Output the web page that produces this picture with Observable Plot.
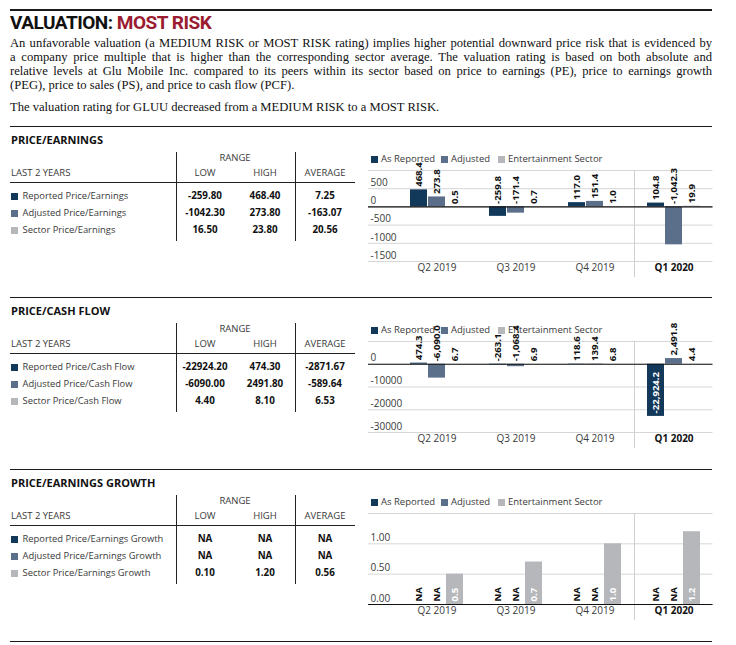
<!DOCTYPE html>
<html>
<head>
<meta charset="utf-8">
<script src="https://cdn.jsdelivr.net/npm/d3@7"></script>
<script src="https://cdn.jsdelivr.net/npm/@observablehq/plot@0.6"></script>
<style>
  body { margin: 0; background: #fff; }
  #page { position: relative; width: 736px; height: 645px; overflow: hidden; font-family: "Open Sans", sans-serif; color: #333; }
  .a { position: absolute; white-space: nowrap; }
  .rule { position: absolute; left: 10px; width: 702px; background: #1a1a1a; }
  .para { position: absolute; left: 10px; width: 702px; font-family: "Liberation Serif", serif; font-size: 12.6px; color: #111; line-height: 14px; }
  .jl { text-align: justify; text-align-last: justify; height: 14px; white-space: nowrap; }
  .sq { position: absolute; width: 7px; height: 7px; }
  .chart { position: absolute; left: 360px; z-index: 2; }
  .chart svg { background: transparent !important; overflow: visible; }
</style>
</head>
<body>
<div id="page"></div>
<script>
// ---------- data ----------
const quarters = ["Q2 2019", "Q3 2019", "Q4 2019", "Q1 2020"];
const currentQuarter = "Q1 2020";
const seriesNames = ["As Reported", "Adjusted", "Entertainment Sector"];
const seriesColors = ["#12385a", "#5b6f8a", "#b5b7ba"];

const peReported = [468.4, -259.8, 117.0, 104.8];
const peAdjusted = [273.8, -171.4, 151.4, -1042.3];
const peSector = [0.5, 0.7, 1.0, 19.9];
const peDomain = [-1500, 1000];
const peTicks = [-1500, -1000, -500, 0, 500, 1000];
const peTickLabels = [-1500, -1000, -500, 0, 500];

const pcfReported = [474.3, -263.1, 118.6, -22924.2];
const pcfAdjusted = [-6090.0, -1068.4, 139.4, 2491.8];
const pcfSector = [6.7, 6.9, 6.8, 4.4];
const pcfDomain = [-30000, 10000];
const pcfTicks = [-30000, -20000, -10000, 0, 10000];
const pcfTickLabels = [-30000, -20000, -10000, 0];

const pegReported = [null, null, null, null];
const pegAdjusted = [null, null, null, null];
const pegSector = [0.5, 0.7, 1.0, 1.2];
const pegDomain = [0, 1.5];
const pegTicks = [0, 0.5, 1.0, 1.5];
const pegTickLabels = [0, 0.5, 1.0];

const tableColumns = ["LOW", "HIGH", "AVERAGE"];
const peRows = ["Reported Price/Earnings", "Adjusted Price/Earnings", "Sector Price/Earnings"];
const peLow = ["-259.80", "-1042.30", "16.50"];
const peHigh = ["468.40", "273.80", "23.80"];
const peAvg = ["7.25", "-163.07", "20.56"];

const pcfRows = ["Reported Price/Cash Flow", "Adjusted Price/Cash Flow", "Sector Price/Cash Flow"];
const pcfLow = ["-22924.20", "-6090.00", "4.40"];
const pcfHigh = ["474.30", "2491.80", "8.10"];
const pcfAvg = ["-2871.67", "-589.64", "6.53"];

const pegRows = ["Reported Price/Earnings Growth", "Adjusted Price/Earnings Growth", "Sector Price/Earnings Growth"];
const pegLow = ["NA", "NA", "0.10"];
const pegHigh = ["NA", "NA", "1.20"];
const pegAvg = ["NA", "NA", "0.56"];

const titleText = "VALUATION: ";
const titleRisk = "MOST RISK";
const paraLines = [
  "An unfavorable valuation (a MEDIUM RISK or MOST RISK rating) implies higher potential downward price risk that is evidenced by",
  "a company price multiple that is higher than the corresponding sector average. The valuation rating is based on both absolute and",
  "relative levels at Glu Mobile Inc. compared to its peers within its sector based on price to earnings (PE), price to earnings growth",
  "(PEG), price to sales (PS),  and price to cash flow (PCF)."
];
const paraLast = "The valuation rating for GLUU decreased from a MEDIUM RISK to a MOST RISK.";

// ---------- helpers ----------
const page = document.getElementById("page");
function el(tag, cls, style, text) {
  const e = document.createElement(tag);
  if (cls) e.className = cls;
  if (style) Object.assign(e.style, style);
  if (text != null) e.textContent = text;
  page.appendChild(e);
  return e;
}
function txt(text, x, yc, opts = {}) {
  const { align = "left", size = 9.5, weight = 400, color = "#3a3a3a", family } = opts;
  const st = { top: (yc - 8) + "px", height: "16px", lineHeight: "16px", fontSize: size + "px", fontWeight: weight, color };
  if (family) st.fontFamily = family;
  if (align === "left") st.left = x + "px";
  else if (align === "center") { st.left = (x - 100) + "px"; st.width = "200px"; st.textAlign = "center"; }
  else { st.left = (x - 200) + "px"; st.width = "200px"; st.textAlign = "right"; }
  return el("div", "a", st, text);
}
function hrule(y, h) { el("div", "rule", { top: y + "px", height: h + "px" }); }

const minusFmt = d3.format(",.1f");
const valueFmt = v => (v < 0 ? "-" : "") + minusFmt(Math.abs(v));

// ---------- header ----------
hrule(9, 2);
const t = el("div", "a", { left: "10px", top: "11px", fontFamily: "Roboto, sans-serif", fontWeight: 700, fontSize: "19px", lineHeight: "24px", color: "#111", letterSpacing: "-0.5px" });
t.appendChild(document.createTextNode(titleText));
const red = document.createElement("span"); red.style.color = "#9b1b30"; red.textContent = titleRisk; t.appendChild(red);

const para = el("div", "para", { top: "36px" });
paraLines.forEach((line, i) => {
  const d = document.createElement("div");
  d.className = i < paraLines.length - 1 ? "jl" : "";
  d.style.height = "14px";
  d.textContent = line;
  para.appendChild(d);
});
el("div", "para", { top: "100px" }, paraLast);

// ---------- sections ----------
function section(B, heading, rows, low, high, avg, chart) {
  hrule(B, 1.3);
  txt(heading, 11, B + 14, { size: 11, weight: 700, color: "#111" });
  // table header
  txt("RANGE", 235, B + 32, { align: "center", size: 9.5 });
  txt("LAST 2 YEARS", 11, B + 47, { size: 9.5 });
  const colX = [205, 265, 325];
  tableColumns.forEach((c, i) => txt(c, colX[i], B + 47, { align: "center", size: 9.5 }));
  el("div", "a", { left: "10px", top: (B + 56) + "px", width: "345px", height: "1px", background: "#222" });
  [175.5, 294.5].forEach(x => el("div", "a", { left: x + "px", top: (B + 26) + "px", width: "1.2px", height: "89px", background: "#222" }));
  const rowY = [B + 70, B + 87, B + 104];
  rows.forEach((r, i) => {
    el("div", "sq", { left: "11px", top: (rowY[i] - 3.5) + "px", background: seriesColors[i] });
    txt(r, 22.5, rowY[i], { size: 9.4, color: "#3a3a3a" });
    [low, high, avg].forEach((col, j) => txt(col[i], colX[j], rowY[i], { align: "center", size: 9.8, weight: 700, color: "#111" }));
  });
  // legend
  const legX = [371, 441, 498];
  seriesNames.forEach((s, i) => {
    el("div", "sq", { left: legX[i] + "px", top: (B + 33 - 3.5) + "px", background: seriesColors[i] });
    txt(s, legX[i] + 10, B + 33, { size: 9.5, color: "#3a3a3a" });
  });
  // chart
  const holder = el("div", "chart", { top: (B + 20) + "px" });
  holder.appendChild(drawChart(chart));
}

function drawChart({ reported, adjusted, sector, domain, ticks, tickLabels, tickFormat }) {
  const W = 376, H = 140, mt = 24, mb = 25, ml = 36.5, mr = 23.5;
  const plotH = H - mt - mb;
  const pxPerUnit = plotH / (domain[1] - domain[0]);
  const step = (W - ml - mr) / quarters.length;
  const barStep = 18, barW = 17;
  const inset = (step - barW) / 2;
  const data = [];
  quarters.forEach((q, i) => {
    [reported, adjusted, sector].forEach((arr, j) => {
      const v = arr[i];
      const label = v == null ? "NA" : valueFmt(v);
      const inside = v != null && Math.abs(v) * pxPerUnit > label.length * 5 + 4;
      data.push({ quarter: q, si: j, value: v, label, inside,
        anchor: v == null ? 0 : inside ? Math.min(v, 0) : Math.max(v, 0) });
    });
  });
  const marks = [
    Plot.ruleY(ticks, { y: d => d, stroke: "#d6d6d6", strokeWidth: 1, insetLeft: -28.5 }),
    Plot.ruleX([currentQuarter], { x: d => d, dx: -step / 2, stroke: "#cfcfcf", strokeWidth: 1, insetBottom: -16 })
  ];
  seriesNames.forEach((s, j) => {
    const sd = data.filter(d => d.si === j);
    marks.push(Plot.barY(sd.filter(d => d.value != null), {
      x: "quarter", y1: 0, y2: "value", fill: seriesColors[j],
      dx: (j - 1) * barStep, insetLeft: inset, insetRight: inset
    }));
  });
  marks.push(Plot.ruleY([0], { y: d => d, stroke: "#111", strokeWidth: 1.2, insetLeft: -28.5 }));
  seriesNames.forEach((s, j) => {
    const sd = data.filter(d => d.si === j);
    marks.push(Plot.text(sd.filter(d => !d.inside), {
      x: "quarter", y: "anchor", text: "label", rotate: -90, textAnchor: "start",
      dx: (j - 1) * barStep, dy: -3, fill: "#111", fontWeight: "bold", fontSize: 9.6
    }));
    marks.push(Plot.text(sd.filter(d => d.inside), {
      x: "quarter", y: "anchor", text: "label", rotate: -90, textAnchor: "start",
      dx: (j - 1) * barStep, dy: -3, fill: "#fff", fontWeight: "bold", fontSize: 9.6
    }));
  });
  marks.push(Plot.text(tickLabels, {
    y: d => d, text: tickFormat, frameAnchor: "left", textAnchor: "start",
    dx: -26.5, dy: -6, fill: "#3a3a3a", fontSize: 10
  }));
  marks.push(Plot.text(quarters.filter(q => q !== currentQuarter), {
    x: d => d, text: d => d, frameAnchor: "bottom", dy: 9, fill: "#3a3a3a", fontSize: 10
  }));
  marks.push(Plot.text([currentQuarter], {
    x: d => d, text: d => d, frameAnchor: "bottom", dy: 9, fill: "#111", fontSize: 10, fontWeight: "bold"
  }));
  return Plot.plot({
    width: W, height: H,
    marginTop: mt, marginBottom: mb, marginLeft: ml, marginRight: mr,
    x: { domain: quarters, padding: 0, axis: null },
    y: { domain, axis: null },
    style: { fontFamily: "Open Sans, sans-serif", fontSize: "10px", background: "transparent", overflow: "visible" },
    marks
  });
}

section(126, "PRICE/EARNINGS", peRows, peLow, peHigh, peAvg,
  { reported: peReported, adjusted: peAdjusted, sector: peSector, domain: peDomain, ticks: peTicks, tickLabels: peTickLabels, tickFormat: d => String(d) });
section(297, "PRICE/CASH FLOW", pcfRows, pcfLow, pcfHigh, pcfAvg,
  { reported: pcfReported, adjusted: pcfAdjusted, sector: pcfSector, domain: pcfDomain, ticks: pcfTicks, tickLabels: pcfTickLabels, tickFormat: d => String(d) });
section(469, "PRICE/EARNINGS GROWTH", pegRows, pegLow, pegHigh, pegAvg,
  { reported: pegReported, adjusted: pegAdjusted, sector: pegSector, domain: pegDomain, ticks: pegTicks, tickLabels: pegTickLabels, tickFormat: d => d.toFixed(2) });
hrule(641, 1.3);
</script>
</body>
</html>
